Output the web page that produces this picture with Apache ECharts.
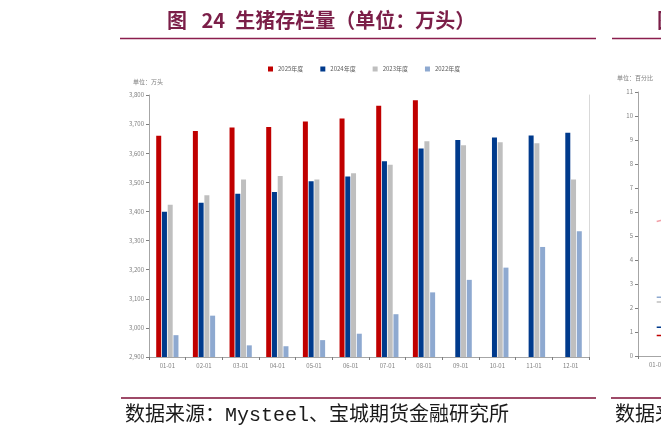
<!DOCTYPE html>
<html>
<head>
<meta charset="utf-8">
<script src="https://cdn.jsdelivr.net/npm/echarts@6/dist/echarts.min.js"></script>
<style>
html,body{margin:0;padding:0;width:661px;height:433px;overflow:hidden;background:#fff;}
#c{width:1100px;height:433px;}
</style>
</head>
<body>
<div id="c"></div>
<script>
var categories = ['01-01','02-01','03-01','04-01','05-01','06-01','07-01','08-01','09-01','10-01','11-01','12-01'];
var seriesNames = ['2025年度','2024年度','2023年度','2022年度'];
var s2025 = [3660,3676,3688,3690,3709,3719,3763,3782,null,null,null,null];
var s2024 = [3399,3430,3461,3467,3504,3520,3572,3616,3645,3654,3661,3670];
var s2023 = [3423,3456,3510,3522,3510,3531,3560,3641,3627,3638,3634,3510];
var s2022 = [2975,3042,2940,2937,2958,2980,3047,3122,3165,3207,3278,3332];
var yTicks = [2900,3000,3100,3200,3300,3400,3500,3600,3700,3800];

// partially visible neighbouring chart (cut off at the right edge)
var rightCats = ['01-01','02-01','03-01','04-01','05-01','06-01','07-01','08-01','09-01','10-01','11-01','12-01'];
var rPink = [5.6,6.0];
var rLightBlue = [2.45,2.45];
var rGray = [2.25,2.25];
var rNavy = [1.2,1.2];
var rRed = [0.85,0.85];

var colors = ['#C00000','#003A8C','#BFBFBF','#8EA9D0'];
var chart = echarts.init(document.getElementById('c'), null, {renderer:'canvas'});
var fmt = function(v){ return String(v).replace(/\B(?=(\d{3})+(?!\d))/g, ','); };
var small = {fontSize:6, color:'#808080', fontFamily:'Noto Sans CJK SC'};
var barData = [s2025,s2024,s2023,s2022];

var series = barData.map(function(d,i){
  return {name:seriesNames[i], type:'bar', xAxisIndex:0, yAxisIndex:0, data:d,
    barWidth:5, barGap:'15%', itemStyle:{color:colors[i]}};
});
var lineSets = [[rPink,'#F2A0A8'],[rLightBlue,'#8EA9D0'],[rGray,'#BFBFBF'],[rNavy,'#003A8C'],[rRed,'#C00000']];
lineSets.forEach(function(l){
  series.push({type:'line', xAxisIndex:1, yAxisIndex:2, data:l[0], symbol:'none',
    lineStyle:{color:l[1], width:1.5}, silent:true});
});

chart.setOption({
  animation:false,
  legend:{data:seriesNames, left:263, top:61, itemWidth:5, itemHeight:5, itemGap:17,
    icon:'rect', textStyle:{fontSize:6, color:'#595959', fontFamily:'Noto Sans CJK SC'}},
  grid:[
    {left:149, top:95, width:440, height:262},
    {left:638, top:92, width:449, height:264}
  ],
  xAxis:[
    {type:'category', gridIndex:0, data:categories,
      axisLine:{lineStyle:{color:'#A6A6A6', width:1}},
      axisTick:{show:true, length:3, lineStyle:{color:'#7F7F7F'}},
      axisLabel:Object.assign({margin:6}, small)},
    {type:'category', gridIndex:1, data:rightCats,
      axisLine:{lineStyle:{color:'#A6A6A6', width:1}},
      axisTick:{show:true, length:3, lineStyle:{color:'#7F7F7F'}},
      axisLabel:Object.assign({margin:6}, small)}
  ],
  yAxis:[
    {type:'value', gridIndex:0, min:2900, max:3800, interval:100,
      axisLine:{show:true, lineStyle:{color:'#A6A6A6', width:1}},
      axisTick:{show:true, length:3, lineStyle:{color:'#7F7F7F'}},
      splitLine:{show:false},
      axisLabel:Object.assign({margin:5, formatter:fmt}, small)},
    {type:'value', gridIndex:0, position:'right', min:2900, max:3800,
      axisLine:{show:true, lineStyle:{color:'#D9D9D9', width:1}},
      axisTick:{show:false}, axisLabel:{show:false}, splitLine:{show:false}},
    {type:'value', gridIndex:1, min:0, max:11, interval:1,
      axisLine:{show:true, lineStyle:{color:'#A6A6A6', width:1}},
      axisTick:{show:true, length:3, lineStyle:{color:'#7F7F7F'}},
      splitLine:{show:false},
      axisLabel:Object.assign({margin:5}, small)}
  ],
  graphic:[
    {type:'text', left:167, top:10, style:{text:'图\u2002 24\u2002生猪存栏量（单位：万头）', fill:'#7B1E48',
      font:'bold 20px "Noto Sans CJK SC"'}},
    {type:'text', left:657, top:10, style:{text:'图', fill:'#7B1E48', font:'bold 20px "Noto Sans CJK SC"'}},
    {type:'line', shape:{x1:120, y1:38.5, x2:596, y2:38.5}, style:{stroke:'#8B1E4E', lineWidth:1.5}},
    {type:'line', shape:{x1:612, y1:38.5, x2:1100, y2:38.5}, style:{stroke:'#8B1E4E', lineWidth:1.5}},
    {type:'text', left:133, top:79, style:{text:'单位：万头', fill:'#808080', font:'6px "Noto Sans CJK SC"'}},
    {type:'text', left:617, top:75, style:{text:'单位：百分比', fill:'#808080', font:'6px "Noto Sans CJK SC"'}},
    {type:'line', shape:{x1:121, y1:398, x2:596, y2:398}, style:{stroke:'#9E4A68', lineWidth:2}},
    {type:'line', shape:{x1:611, y1:398, x2:1100, y2:398}, style:{stroke:'#9E4A68', lineWidth:2}},
    {type:'text', left:125, top:406, style:{text:'数据来源：Mysteel、宝城期货金融研究所', fill:'#1a1a1a',
      font:'20px "Liberation Mono", "Noto Sans CJK SC"'}},
    {type:'text', left:615, top:406, style:{text:'数据来源：Mysteel', fill:'#1a1a1a',
      font:'20px "Liberation Mono", "Noto Sans CJK SC"'}}
  ],
  series:series
});
</script>
</body>
</html>
